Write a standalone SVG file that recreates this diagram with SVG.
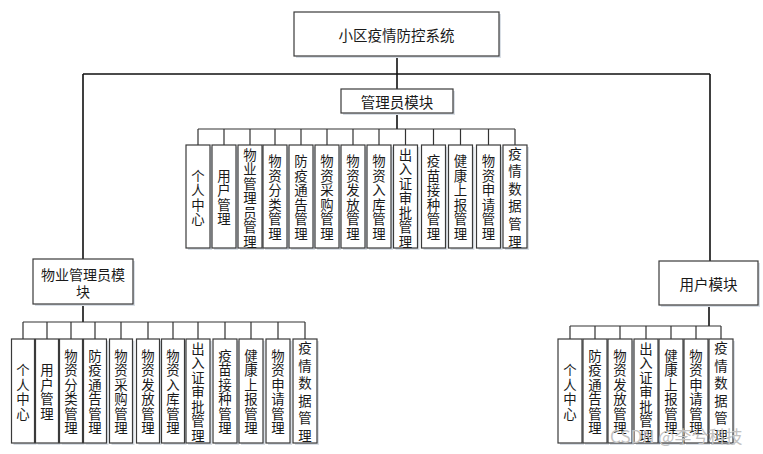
<svg xmlns="http://www.w3.org/2000/svg" width="763" height="454" viewBox="0 0 763 454">
<defs>
<style>
.bg{fill:#ffffff}
.sh{fill:#d9dfe6}
.box{fill:#ffffff;stroke:#3a3a3a;stroke-width:1.2}
.t{font-family:"Noto Sans CJK SC","Noto Sans",sans-serif;font-size:13.4px;fill:#1a1a1a;text-anchor:middle;dominant-baseline:central}
.m{font-size:14.5px}
.s{font-size:14px}
.ln{stroke:#111;stroke-width:1.6;fill:none}
.tk{stroke:#333;stroke-width:1.2;fill:none}
.wm{font-family:"Noto Sans CJK SC","Noto Sans",sans-serif;font-size:17px;fill:#c2c2c2}
</style>
</defs>
<rect class="bg" x="0" y="0" width="763" height="454"/>

<g id="connectors">
<path class="ln" d="M397,56V89M83,74H710M83,74V259M710,74V261M397,113V129M83,304V322M709,305V326"/>
<path class="tk" d="M198,129H515M198,129V145M224,129V145M250,129V145M275,129V145M301,129V145M327,129V145M353,129V145M379,129V145M405.5,129V145M433.5,129V145M460.5,129V145M488.5,129V145M515,129V145"/>
<path class="tk" d="M23,322H305M23,322V339M47,322V339M71,322V339M95,322V339M121,322V339M148,322V339M173,322V339M198,322V339M225,322V339M251,322V339M278,322V339M305,322V339"/>
<path class="tk" d="M570,326H721M570,326V339M595,326V339M620,326V339M646,326V339M671,326V339M696,326V339M721,326V339"/>
</g>

<g id="root">
<rect class="sh" x="296" y="14" width="205" height="44"/>
<rect class="box" x="294" y="12" width="205" height="44"/>
<text class="t m" x="396.5" y="34">小区疫情防控系统</text>
</g>
<g id="admin">
<rect class="sh" x="343" y="91" width="112" height="24"/>
<rect class="box" x="341" y="89" width="112" height="24"/>
<text class="t m" x="397" y="101">管理员模块</text>
</g>
<g id="property">
<rect class="sh" x="35" y="261" width="100" height="45"/>
<rect class="box" x="33" y="259" width="100" height="45"/>
<text class="t s" x="83" y="274">物业管理员模</text>
<text class="t s" x="83" y="290.5">块</text>
</g>
<g id="user">
<rect class="sh" x="661" y="263" width="99" height="44"/>
<rect class="box" x="659" y="261" width="99" height="44"/>
<text class="t m" x="708.5" y="283">用户模块</text>
</g>

<g id="a1"><rect class="sh" x="188" y="147" width="24" height="103"/><rect class="box" x="186" y="145" width="24" height="103"/>
<text class="t" x="198"><tspan x="198" y="174.75">个</tspan><tspan x="198" y="189.25">人</tspan><tspan x="198" y="203.75">中</tspan><tspan x="198" y="218.25">心</tspan></text></g>
<g id="a2"><rect class="sh" x="214" y="147" width="24" height="103"/><rect class="box" x="212" y="145" width="24" height="103"/>
<text class="t" x="224"><tspan x="224" y="174.75">用</tspan><tspan x="224" y="189.25">户</tspan><tspan x="224" y="203.75">管</tspan><tspan x="224" y="218.25">理</tspan></text></g>
<g id="a3"><rect class="sh" x="240" y="147" width="24" height="103"/><rect class="box" x="238" y="145" width="24" height="103"/>
<text class="t" x="250"><tspan x="250" y="153.5">物</tspan><tspan x="250" y="168">业</tspan><tspan x="250" y="182.5">管</tspan><tspan x="250" y="197">理</tspan><tspan x="250" y="211.5">员</tspan><tspan x="250" y="226">管</tspan><tspan x="250" y="240.5">理</tspan></text></g>
<g id="a4"><rect class="sh" x="265" y="147" width="24" height="103"/><rect class="box" x="263" y="145" width="24" height="103"/>
<text class="t" x="275"><tspan x="275" y="160.25">物</tspan><tspan x="275" y="174.75">资</tspan><tspan x="275" y="189.25">分</tspan><tspan x="275" y="203.75">类</tspan><tspan x="275" y="218.25">管</tspan><tspan x="275" y="232.75">理</tspan></text></g>
<g id="a5"><rect class="sh" x="291" y="147" width="24" height="103"/><rect class="box" x="289" y="145" width="24" height="103"/>
<text class="t" x="301"><tspan x="301" y="160.25">防</tspan><tspan x="301" y="174.75">疫</tspan><tspan x="301" y="189.25">通</tspan><tspan x="301" y="203.75">告</tspan><tspan x="301" y="218.25">管</tspan><tspan x="301" y="232.75">理</tspan></text></g>
<g id="a6"><rect class="sh" x="317" y="147" width="24" height="103"/><rect class="box" x="315" y="145" width="24" height="103"/>
<text class="t" x="327"><tspan x="327" y="160.25">物</tspan><tspan x="327" y="174.75">资</tspan><tspan x="327" y="189.25">采</tspan><tspan x="327" y="203.75">购</tspan><tspan x="327" y="218.25">管</tspan><tspan x="327" y="232.75">理</tspan></text></g>
<g id="a7"><rect class="sh" x="343" y="147" width="24" height="103"/><rect class="box" x="341" y="145" width="24" height="103"/>
<text class="t" x="353"><tspan x="353" y="160.25">物</tspan><tspan x="353" y="174.75">资</tspan><tspan x="353" y="189.25">发</tspan><tspan x="353" y="203.75">放</tspan><tspan x="353" y="218.25">管</tspan><tspan x="353" y="232.75">理</tspan></text></g>
<g id="a8"><rect class="sh" x="369" y="147" width="24" height="103"/><rect class="box" x="367" y="145" width="24" height="103"/>
<text class="t" x="379"><tspan x="379" y="160.25">物</tspan><tspan x="379" y="174.75">资</tspan><tspan x="379" y="189.25">入</tspan><tspan x="379" y="203.75">库</tspan><tspan x="379" y="218.25">管</tspan><tspan x="379" y="232.75">理</tspan></text></g>
<g id="a9"><rect class="sh" x="395.5" y="147" width="24" height="103"/><rect class="box" x="393.5" y="145" width="24" height="103"/>
<text class="t" x="405.5"><tspan x="405.5" y="153.5">出</tspan><tspan x="405.5" y="168">入</tspan><tspan x="405.5" y="182.5">证</tspan><tspan x="405.5" y="197">审</tspan><tspan x="405.5" y="211.5">批</tspan><tspan x="405.5" y="226">管</tspan><tspan x="405.5" y="240.5">理</tspan></text></g>
<g id="a10"><rect class="sh" x="423.5" y="147" width="24" height="103"/><rect class="box" x="421.5" y="145" width="24" height="103"/>
<text class="t" x="433.5"><tspan x="433.5" y="160.25">疫</tspan><tspan x="433.5" y="174.75">苗</tspan><tspan x="433.5" y="189.25">接</tspan><tspan x="433.5" y="203.75">种</tspan><tspan x="433.5" y="218.25">管</tspan><tspan x="433.5" y="232.75">理</tspan></text></g>
<g id="a11"><rect class="sh" x="450.5" y="147" width="24" height="103"/><rect class="box" x="448.5" y="145" width="24" height="103"/>
<text class="t" x="460.5"><tspan x="460.5" y="160.25">健</tspan><tspan x="460.5" y="174.75">康</tspan><tspan x="460.5" y="189.25">上</tspan><tspan x="460.5" y="203.75">报</tspan><tspan x="460.5" y="218.25">管</tspan><tspan x="460.5" y="232.75">理</tspan></text></g>
<g id="a12"><rect class="sh" x="478.5" y="147" width="24" height="103"/><rect class="box" x="476.5" y="145" width="24" height="103"/>
<text class="t" x="488.5"><tspan x="488.5" y="160.25">物</tspan><tspan x="488.5" y="174.75">资</tspan><tspan x="488.5" y="189.25">申</tspan><tspan x="488.5" y="203.75">请</tspan><tspan x="488.5" y="218.25">管</tspan><tspan x="488.5" y="232.75">理</tspan></text></g>
<g id="a13"><rect class="sh" x="505" y="147" width="24" height="103"/><rect class="box" x="503" y="145" width="24" height="103"/>
<text class="t" x="515"><tspan x="515" y="152.5">疫</tspan><tspan x="515" y="170.1">情</tspan><tspan x="515" y="187.7">数</tspan><tspan x="515" y="205.3">据</tspan><tspan x="515" y="222.9">管</tspan><tspan x="515" y="240.5">理</tspan></text></g>

<g id="p1"><rect class="sh" x="13.5" y="341" width="23" height="104"/><rect class="box" x="11.5" y="339" width="23" height="104"/>
<text class="t" x="23"><tspan x="23" y="369.25">个</tspan><tspan x="23" y="383.75">人</tspan><tspan x="23" y="398.25">中</tspan><tspan x="23" y="412.75">心</tspan></text></g>
<g id="p2"><rect class="sh" x="37.5" y="341" width="23" height="104"/><rect class="box" x="35.5" y="339" width="23" height="104"/>
<text class="t" x="47"><tspan x="47" y="369.25">用</tspan><tspan x="47" y="383.75">户</tspan><tspan x="47" y="398.25">管</tspan><tspan x="47" y="412.75">理</tspan></text></g>
<g id="p3"><rect class="sh" x="61.5" y="341" width="23" height="104"/><rect class="box" x="59.5" y="339" width="23" height="104"/>
<text class="t" x="71"><tspan x="71" y="354.75">物</tspan><tspan x="71" y="369.25">资</tspan><tspan x="71" y="383.75">分</tspan><tspan x="71" y="398.25">类</tspan><tspan x="71" y="412.75">管</tspan><tspan x="71" y="427.25">理</tspan></text></g>
<g id="p4"><rect class="sh" x="85.5" y="341" width="23" height="104"/><rect class="box" x="83.5" y="339" width="23" height="104"/>
<text class="t" x="95"><tspan x="95" y="354.75">防</tspan><tspan x="95" y="369.25">疫</tspan><tspan x="95" y="383.75">通</tspan><tspan x="95" y="398.25">告</tspan><tspan x="95" y="412.75">管</tspan><tspan x="95" y="427.25">理</tspan></text></g>
<g id="p5"><rect class="sh" x="111.5" y="341" width="23" height="104"/><rect class="box" x="109.5" y="339" width="23" height="104"/>
<text class="t" x="121"><tspan x="121" y="354.75">物</tspan><tspan x="121" y="369.25">资</tspan><tspan x="121" y="383.75">采</tspan><tspan x="121" y="398.25">购</tspan><tspan x="121" y="412.75">管</tspan><tspan x="121" y="427.25">理</tspan></text></g>
<g id="p6"><rect class="sh" x="138.5" y="341" width="23" height="104"/><rect class="box" x="136.5" y="339" width="23" height="104"/>
<text class="t" x="148"><tspan x="148" y="354.75">物</tspan><tspan x="148" y="369.25">资</tspan><tspan x="148" y="383.75">发</tspan><tspan x="148" y="398.25">放</tspan><tspan x="148" y="412.75">管</tspan><tspan x="148" y="427.25">理</tspan></text></g>
<g id="p7"><rect class="sh" x="163.5" y="341" width="23" height="104"/><rect class="box" x="161.5" y="339" width="23" height="104"/>
<text class="t" x="173"><tspan x="173" y="354.75">物</tspan><tspan x="173" y="369.25">资</tspan><tspan x="173" y="383.75">入</tspan><tspan x="173" y="398.25">库</tspan><tspan x="173" y="412.75">管</tspan><tspan x="173" y="427.25">理</tspan></text></g>
<g id="p8"><rect class="sh" x="188" y="341" width="24" height="104"/><rect class="box" x="186" y="339" width="24" height="104"/>
<text class="t" x="198"><tspan x="198" y="347.5">出</tspan><tspan x="198" y="362">入</tspan><tspan x="198" y="376.5">证</tspan><tspan x="198" y="391">审</tspan><tspan x="198" y="405.5">批</tspan><tspan x="198" y="420">管</tspan><tspan x="198" y="434.5">理</tspan></text></g>
<g id="p9"><rect class="sh" x="215" y="341" width="24" height="104"/><rect class="box" x="213" y="339" width="24" height="104"/>
<text class="t" x="225"><tspan x="225" y="354.75">疫</tspan><tspan x="225" y="369.25">苗</tspan><tspan x="225" y="383.75">接</tspan><tspan x="225" y="398.25">种</tspan><tspan x="225" y="412.75">管</tspan><tspan x="225" y="427.25">理</tspan></text></g>
<g id="p10"><rect class="sh" x="241" y="341" width="24" height="104"/><rect class="box" x="239" y="339" width="24" height="104"/>
<text class="t" x="251"><tspan x="251" y="354.75">健</tspan><tspan x="251" y="369.25">康</tspan><tspan x="251" y="383.75">上</tspan><tspan x="251" y="398.25">报</tspan><tspan x="251" y="412.75">管</tspan><tspan x="251" y="427.25">理</tspan></text></g>
<g id="p11"><rect class="sh" x="268" y="341" width="24" height="104"/><rect class="box" x="266" y="339" width="24" height="104"/>
<text class="t" x="278"><tspan x="278" y="354.75">物</tspan><tspan x="278" y="369.25">资</tspan><tspan x="278" y="383.75">申</tspan><tspan x="278" y="398.25">请</tspan><tspan x="278" y="412.75">管</tspan><tspan x="278" y="427.25">理</tspan></text></g>
<g id="p12"><rect class="sh" x="295" y="341" width="24" height="104"/><rect class="box" x="293" y="339" width="24" height="104"/>
<text class="t" x="305"><tspan x="305" y="347">疫</tspan><tspan x="305" y="364.6">情</tspan><tspan x="305" y="382.2">数</tspan><tspan x="305" y="399.8">据</tspan><tspan x="305" y="417.4">管</tspan><tspan x="305" y="435">理</tspan></text></g>

<g id="u1"><rect class="sh" x="560" y="341" width="24" height="104"/><rect class="box" x="558" y="339" width="24" height="104"/>
<text class="t" x="570"><tspan x="570" y="369.25">个</tspan><tspan x="570" y="383.75">人</tspan><tspan x="570" y="398.25">中</tspan><tspan x="570" y="412.75">心</tspan></text></g>
<g id="u2"><rect class="sh" x="585" y="341" width="24" height="104"/><rect class="box" x="583" y="339" width="24" height="104"/>
<text class="t" x="595"><tspan x="595" y="354.75">防</tspan><tspan x="595" y="369.25">疫</tspan><tspan x="595" y="383.75">通</tspan><tspan x="595" y="398.25">告</tspan><tspan x="595" y="412.75">管</tspan><tspan x="595" y="427.25">理</tspan></text></g>
<g id="u3"><rect class="sh" x="610" y="341" width="24" height="104"/><rect class="box" x="608" y="339" width="24" height="104"/>
<text class="t" x="620"><tspan x="620" y="354.75">物</tspan><tspan x="620" y="369.25">资</tspan><tspan x="620" y="383.75">发</tspan><tspan x="620" y="398.25">放</tspan><tspan x="620" y="412.75">管</tspan><tspan x="620" y="427.25">理</tspan></text></g>
<g id="u4"><rect class="sh" x="636" y="341" width="24" height="104"/><rect class="box" x="634" y="339" width="24" height="104"/>
<text class="t" x="646"><tspan x="646" y="347.5">出</tspan><tspan x="646" y="362">入</tspan><tspan x="646" y="376.5">证</tspan><tspan x="646" y="391">审</tspan><tspan x="646" y="405.5">批</tspan><tspan x="646" y="420">管</tspan><tspan x="646" y="434.5">理</tspan></text></g>
<g id="u5"><rect class="sh" x="661" y="341" width="24" height="104"/><rect class="box" x="659" y="339" width="24" height="104"/>
<text class="t" x="671"><tspan x="671" y="354.75">健</tspan><tspan x="671" y="369.25">康</tspan><tspan x="671" y="383.75">上</tspan><tspan x="671" y="398.25">报</tspan><tspan x="671" y="412.75">管</tspan><tspan x="671" y="427.25">理</tspan></text></g>
<g id="u6"><rect class="sh" x="686" y="341" width="24" height="104"/><rect class="box" x="684" y="339" width="24" height="104"/>
<text class="t" x="696"><tspan x="696" y="354.75">物</tspan><tspan x="696" y="369.25">资</tspan><tspan x="696" y="383.75">申</tspan><tspan x="696" y="398.25">请</tspan><tspan x="696" y="412.75">管</tspan><tspan x="696" y="427.25">理</tspan></text></g>
<g id="u7"><rect class="sh" x="711" y="341" width="24" height="104"/><rect class="box" x="709" y="339" width="24" height="104"/>
<text class="t" x="721"><tspan x="721" y="347">疫</tspan><tspan x="721" y="364.6">情</tspan><tspan x="721" y="382.2">数</tspan><tspan x="721" y="399.8">据</tspan><tspan x="721" y="417.4">管</tspan><tspan x="721" y="435">理</tspan></text></g>

<text class="wm" x="610" y="443">CSDN @李兮科技</text>
</svg>
